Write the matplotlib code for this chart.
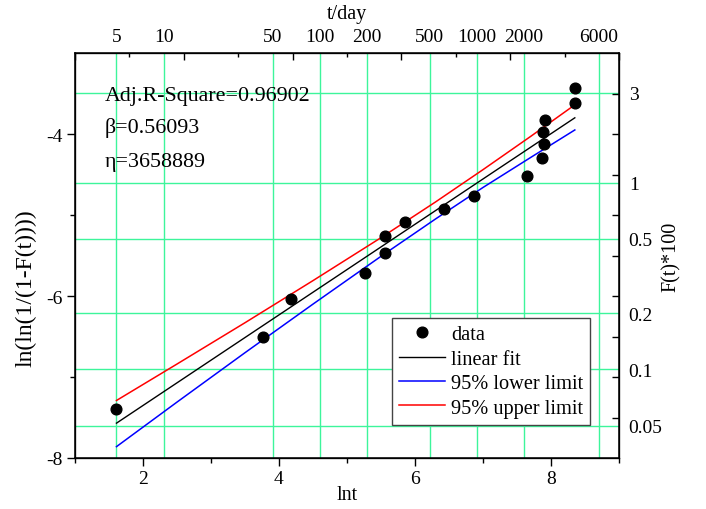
import numpy as np
import matplotlib
matplotlib.use("Agg")
import matplotlib.pyplot as plt
from matplotlib.ticker import FixedLocator, NullFormatter

plt.rcParams['font.family'] = ['Liberation Serif', 'DejaVu Serif']
plt.rcParams['axes.unicode_minus'] = False

# Weibull plot data
lnt = [1.60, 3.76, 4.17, 5.26, 5.56, 5.56, 5.86, 6.42, 6.87, 7.64, 7.87, 7.89, 7.88, 7.91, 8.35, 8.35]
lnln = [-7.40, -6.51, -6.04, -5.72, -5.47, -5.26, -5.09, -4.92, -4.76, -4.52, -4.30, -4.12, -3.97, -3.83, -3.62, -3.43]

# linear fit (end points)
fit_x = [1.61, 8.35]
fit_y = [-7.57, -3.80]

# 95% confidence limits
band_x = [1.61, 2.5, 3.5, 4.5, 5.5, 6.3, 7.0, 7.7, 8.35]
upper = [-7.29, -6.84, -6.33, -5.81, -5.28, -4.84, -4.44, -4.03, -3.64]
lower = [-7.86, -7.31, -6.70, -6.10, -5.51, -5.05, -4.66, -4.29, -3.95]

# secondary axes labels
t_ticks = [5, 10, 50, 100, 200, 500, 1000, 2000, 6000]
F_ticks = [3, 1, 0.5, 0.2, 0.1, 0.05]

grid_col = '#3DF59B'

fig = plt.figure(figsize=(7.06, 5.10), dpi=100)
ax = fig.add_axes([0.1062, 0.1, 0.7706, 0.7941])

# positions of the top / right scales in lnt / ln(ln(1/(1-F))) units
t_pos = np.log(t_ticks)
F_pos = np.log(-np.log(1 - np.array(F_ticks) / 100.0))

for x in t_pos:
    ax.axvline(x, color=grid_col, lw=1.0, zorder=0)
for y in F_pos:
    ax.axhline(y, color=grid_col, lw=1.0, zorder=0)

h_data, = ax.plot(lnt, lnln, 'o', color='black', ms=7.7, ls='none', label='data', zorder=5)
h_fit, = ax.plot(fit_x, fit_y, color='black', lw=1.0, label='linear fit', zorder=3)
h_low, = ax.plot(band_x, lower, color='blue', lw=1.1, label='95% lower limit', zorder=3)
h_up, = ax.plot(band_x, upper, color='red', lw=1.1, label='95% upper limit', zorder=3)

ax.set_xlim(1, 9)
ax.set_ylim(-8, -3)

ax.xaxis.set_major_locator(FixedLocator([2, 4, 6, 8]))
ax.xaxis.set_minor_locator(FixedLocator([1, 3, 5, 7, 9]))
ax.yaxis.set_major_locator(FixedLocator([-8, -6, -4]))
ax.yaxis.set_minor_locator(FixedLocator([-7, -5]))
ax.tick_params(which='major', direction='out', length=6, width=1.0, labelsize=14, pad=3)
ax.tick_params(which='minor', direction='out', length=3.5, width=1.0)
ax.tick_params(top=False, right=False)
for s in ax.spines.values():
    s.set_linewidth(1.1)

ax.set_xlabel('lnt', fontsize=14.5)
ax.xaxis.set_label_coords(0.5, -0.067)
ax.set_ylabel('ln(ln(1/(1-F(t))))', fontsize=17)
ax.yaxis.set_label_coords(-0.07, 0.422)

# top axis: t/day labels
axT = ax.twiny()
axT.set_xlim(ax.get_xlim())
axT.xaxis.set_major_locator(FixedLocator(t_pos))
axT.set_xticklabels([str(t) for t in t_ticks])
axT.tick_params(axis='x', which='major', length=0, labelsize=14, pad=6)
axT.set_xlabel('t/day', fontsize=14.5)
axT.xaxis.set_label_coords(0.5, 1.086)

# top axis tick marks
axT2 = ax.twiny()
axT2.set_xlim(ax.get_xlim())
axT2.xaxis.set_major_locator(FixedLocator([1, 2.6, 4.2, 5.8, 7.4, 9.0]))
axT2.xaxis.set_minor_locator(FixedLocator([1.8, 3.4, 5.0, 6.6, 8.2]))
axT2.xaxis.set_major_formatter(NullFormatter())
axT2.tick_params(axis='x', which='major', direction='in', length=5, width=1.0)
axT2.tick_params(axis='x', which='minor', direction='in', length=3, width=1.0)

# right axis: F(t)*100
axR = ax.twinx()
axR.set_ylim(ax.get_ylim())
axR.yaxis.set_major_locator(FixedLocator(F_pos))
axR.set_yticklabels([('%g' % f) for f in F_ticks])
axR.yaxis.set_minor_locator(FixedLocator(np.arange(-7.5, -3.4, 0.5)))
axR.tick_params(axis='y', which='major', length=0, labelsize=14, pad=7)
axR.tick_params(axis='y', which='minor', direction='in', length=5, width=1.0)
axR.set_ylabel('F(t)*100', fontsize=14.5)
axR.yaxis.set_label_coords(1.079, 0.5)

ax.text(0.055, 0.8946, 'Adj.R-Square=0.96902', transform=ax.transAxes, fontsize=15.8, va='center', ha='left')
ax.text(0.055, 0.817, 'β=0.56093', transform=ax.transAxes, fontsize=15.8, va='center', ha='left')
ax.text(0.055, 0.731, 'η=3658889', transform=ax.transAxes, fontsize=15.8, va='center', ha='left')

leg = axR.legend(handles=[h_data, h_fit, h_low, h_up], loc='upper left',
                 bbox_to_anchor=(0.582, 0.3457), borderaxespad=0, fontsize=14.7,
                 fancybox=False, framealpha=1, edgecolor='#444444',
                 handlelength=2.25, handletextpad=0.3, borderpad=0.35, labelspacing=0.25)
leg.get_frame().set_linewidth(1.0)

fig.savefig('out.png', dpi=100)
